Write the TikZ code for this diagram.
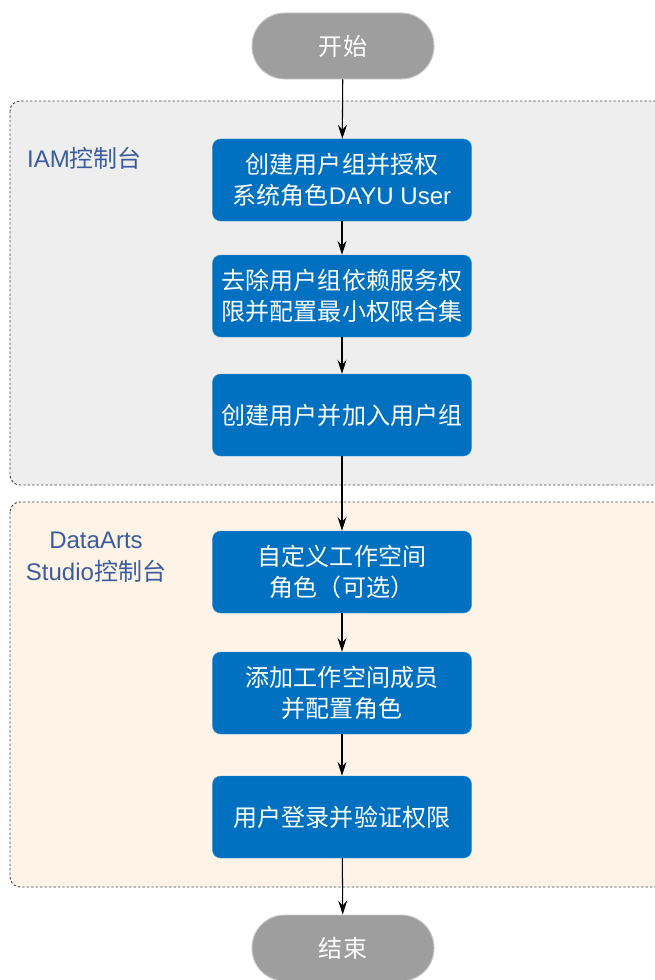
\documentclass[tikz,border=0pt]{standalone}
\usepackage{fontspec}
\setmainfont{Noto Sans CJK SC}
\newfontfamily\latinfont{Liberation Sans}
\newcommand{\lt}[1]{{\latinfont #1}}
\usetikzlibrary{arrows.meta, positioning}

\definecolor{stepblue}{RGB}{0,112,192}
\definecolor{pillgray}{RGB}{158,158,158}
\definecolor{pillline}{RGB}{200,200,200}
\definecolor{labelblue}{RGB}{59,92,158}
\definecolor{iamfill}{RGB}{238,238,238}
\definecolor{dafill}{RGB}{253,243,231}
\definecolor{groupline}{RGB}{70,70,70}

\begin{document}
\begin{tikzpicture}[
    x=0.03cm, y=-0.03cm,
    stepbox/.style={
        rectangle, rounded corners=0.24cm, fill=stepblue, draw=stepblue!70!white,
        minimum width=7.77cm, minimum height=2.46cm, inner sep=0pt,
        align=center, text=white, font=\fontsize{20.5}{27}\selectfont
    },
    pill/.style={
        rectangle, rounded corners=0.98cm, fill=pillgray, draw=pillline, thick,
        minimum width=5.46cm, minimum height=1.98cm, inner sep=0pt,
        text=white, font=\fontsize{20.5}{27}\selectfont
    },
    group/.style={
        draw=groupline, line width=0.8pt, dash pattern=on 2pt off 1.8pt,
        rounded corners=0.3cm
    },
    glabel/.style={text=labelblue, align=center, inner sep=0pt,
        font=\fontsize{20.5}{27}\selectfont},
    flow/.style={-{Stealth[length=0.42cm,width=0.27cm,inset=0.15cm]}, line width=0.9pt, black},
]
\useasboundingbox (0,0) rectangle (655,980);

% Groups
\draw[group, fill=iamfill] (10,101) rectangle (675,485);
\draw[group, fill=dafill] (10,502) rectangle (675,887);
\node[glabel, anchor=west] (iamlabel) at (27,158) {\lt{IAM}控制台};
\node[glabel] (dalabel) at (96,557) {\lt{DataArts}\\\lt{Studio}控制台};

% Nodes
\node[pill] (start) at (343,46) {开始};
\node[stepbox] (s1) at (342,180) {创建用户组并授权\\系统角色\lt{DAYU User}};
\node[stepbox] (s2) at (342,296) {去除用户组依赖服务权\\限并配置最小权限合集};
\node[stepbox] (s3) at (342,415) {创建用户并加入用户组};
\node[stepbox] (s4) at (342,572) {自定义工作空间\\角色（可选）};
\node[stepbox] (s5) at (342,693) {添加工作空间成员\\并配置角色};
\node[stepbox] (s6) at (342,817) {用户登录并验证权限};
\node[pill] (stop) at (343,948) {结束};

% Connectors
\draw[flow] (start) -- (s1);
\draw[flow] (s1) -- (s2);
\draw[flow] (s2) -- (s3);
\draw[flow] (s3) -- (s4);
\draw[flow] (s4) -- (s5);
\draw[flow] (s5) -- (s6);
\draw[flow] (s6) -- (stop);

\end{tikzpicture}
\end{document}
